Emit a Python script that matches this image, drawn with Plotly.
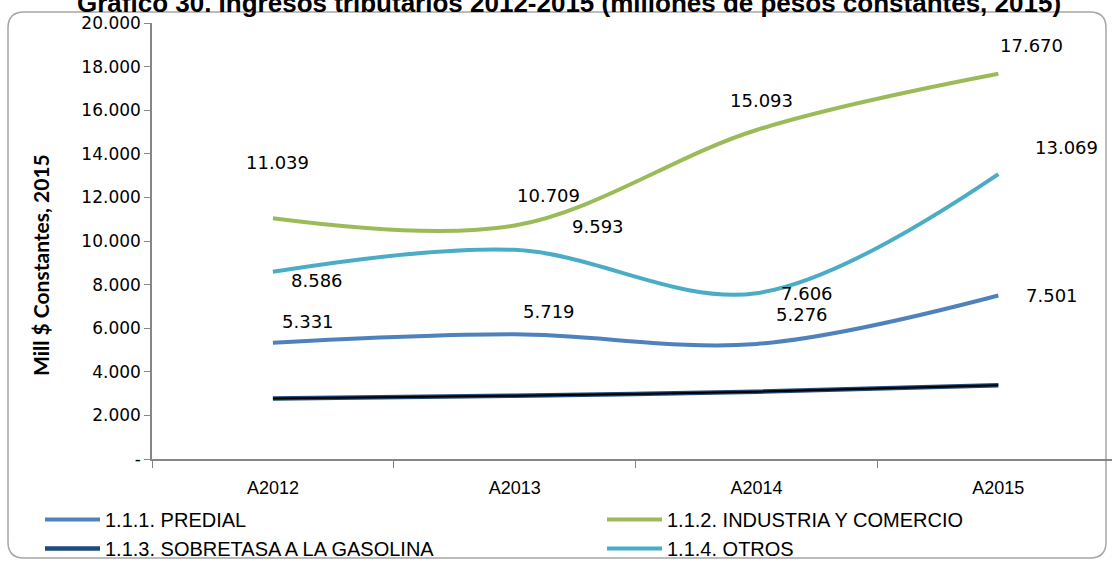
import plotly.graph_objects as go

categories = ["A2012", "A2013", "A2014", "A2015"]
predial = [5331, 5719, 5276, 7501]
industria = [11039, 10709, 15093, 17670]
sobretasa = [2780, 2900, 3090, 3380]
otros = [8586, 9593, 7606, 13069]

series_names = ["1.1.1. PREDIAL", "1.1.2. INDUSTRIA Y COMERCIO",
                "1.1.3. SOBRETASA A LA GASOLINA", "1.1.4. OTROS"]
y_ticks = [0, 2000, 4000, 6000, 8000, 10000, 12000, 14000, 16000, 18000, 20000]
y_tick_text = ["-", "2.000", "4.000", "6.000", "8.000", "10.000", "12.000",
               "14.000", "16.000", "18.000", "20.000"]

W, H = 1112, 562
L, R, T, B = 152, 0, 23, 103
PW, PH = W - L - R, H - T - B


def px(x):
    return (x - L) / PW


def py(y):
    return (H - B - y) / PH


def fmt(v):
    return f"{v:,}".replace(",", ".")


fig = go.Figure()

colors = {"pred": "#4F81BD", "ind": "#9BBB59", "sob": "#1F497D", "otr": "#4BACC6"}
SM = 1.0

fig.add_trace(go.Scatter(x=categories, y=predial, name=series_names[0], mode="lines",
                         legend="legend",
                         line=dict(color=colors["pred"], width=4, shape="spline", smoothing=SM)))
fig.add_trace(go.Scatter(x=categories, y=industria, name=series_names[1], mode="lines",
                         legend="legend2",
                         line=dict(color=colors["ind"], width=4, shape="spline", smoothing=SM)))
fig.add_trace(go.Scatter(x=categories, y=sobretasa, name=series_names[2], mode="lines",
                         legend="legend",
                         line=dict(color=colors["sob"], width=4.5, shape="spline", smoothing=SM)))
fig.add_trace(go.Scatter(x=categories, y=sobretasa, showlegend=False, mode="lines",
                         hoverinfo="skip",
                         line=dict(color="#000000", width=2, shape="spline", smoothing=SM)))
fig.add_trace(go.Scatter(x=categories, y=otros, name=series_names[3], mode="lines",
                         legend="legend2",
                         line=dict(color=colors["otr"], width=4, shape="spline", smoothing=SM)))

label_font = dict(family="DejaVu Sans", size=18, color="#000000")
offsets = {
    "pred": [(35, 21), (34, 23), (45, 29), (54, 0)],
    "ind": [(5, 56), (34, 30), (5, 29), (33, 28)],
    "otr": [(44, -9), (83, 23), (50, 0), (68, 27)],
}
for key, vals in (("pred", predial), ("ind", industria), ("otr", otros)):
    for i, (c, v) in enumerate(zip(categories, vals)):
        dx, dy = offsets[key][i]
        fig.add_annotation(x=c, y=v, text=fmt(v), showarrow=False,
                           xshift=dx, yshift=dy, font=label_font)

# title (partially clipped at top, as in reference)
fig.add_annotation(xref="paper", yref="paper", x=px(569), y=py(3),
                   text="<b>Gráfico 30. Ingresos tributarios 2012-2015 (millones de pesos constantes, 2015)</b>",
                   showarrow=False, xanchor="center", yanchor="middle",
                   font=dict(family="Liberation Sans", size=26, color="#000000"))

# y-axis title
fig.add_annotation(xref="paper", yref="paper", x=px(40), y=py(265),
                   text="<b>Mill $ Constantes, 2015</b>", textangle=-90,
                   showarrow=False, xanchor="center", yanchor="middle",
                   font=dict(family="Lato", size=21, color="#000000"))

# rounded outer frame
x0, y0, x1, y1, r = 8, 12, 1106, 558, 16
path = (f"M {px(x0 + r)},{py(y0)} L {px(x1 - r)},{py(y0)} "
        f"Q {px(x1)},{py(y0)} {px(x1)},{py(y0 + r)} L {px(x1)},{py(y1 - r)} "
        f"Q {px(x1)},{py(y1)} {px(x1 - r)},{py(y1)} L {px(x0 + r)},{py(y1)} "
        f"Q {px(x0)},{py(y1)} {px(x0)},{py(y1 - r)} L {px(x0)},{py(y0 + r)} "
        f"Q {px(x0)},{py(y0)} {px(x0 + r)},{py(y0)} Z")
fig.add_shape(type="path", xref="paper", yref="paper", path=path,
              line=dict(color="#A6A6A6", width=1.5), layer="below")

legend_common = dict(orientation="v", xref="container", yref="container",
                     xanchor="left", yanchor="top", tracegroupgap=0,
                     font=dict(family="Liberation Sans", size=20, color="#000000"),
                     bgcolor="rgba(0,0,0,0)", itemwidth=55)

fig.update_layout(
    width=W, height=H,
    margin=dict(l=L, r=R, t=T, b=B, autoexpand=False),
    paper_bgcolor="white", plot_bgcolor="white",
    showlegend=True,
    legend=dict(x=40 / W, y=(H - 500) / H, **legend_common),
    legend2=dict(x=602 / W, y=(H - 500) / H, **legend_common),
    xaxis=dict(range=[-0.5, 3.47], showgrid=False, zeroline=False, automargin=False,
               showline=True, linecolor="#868686", linewidth=1.5,
               ticks="outside", tickson="boundaries", ticklen=7, tickcolor="#868686",
               ticklabelstandoff=12,
               tickfont=dict(family="Liberation Sans", size=18, color="#000000")),
    yaxis=dict(range=[0, 20000], tickvals=y_ticks, ticktext=y_tick_text, automargin=False,
               showgrid=False, zeroline=False, showline=True, linecolor="#868686",
               linewidth=1.5, ticks="outside", ticklen=6, tickcolor="#868686",
               tickfont=dict(family="DejaVu Sans", size=17, color="#000000")),
)

fig.write_html("out.html", config={"displayModeBar": False},
               post_script="document.body.style.margin='0';")
